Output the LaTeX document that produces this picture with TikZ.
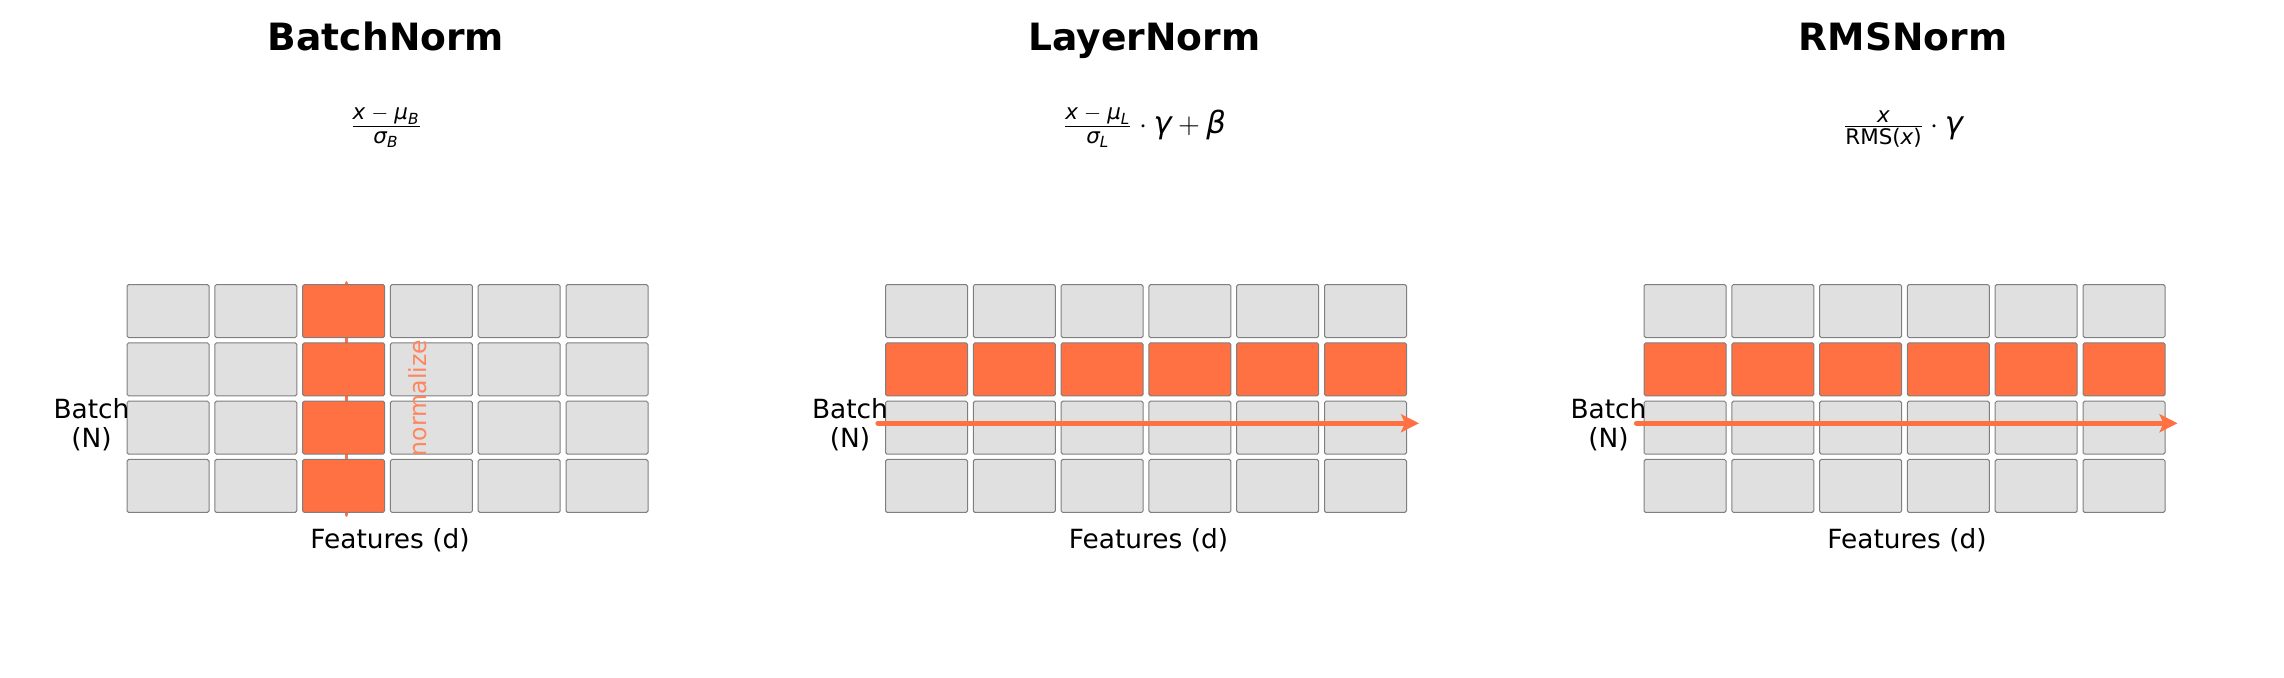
\documentclass[tikz,border=0pt]{standalone}
\usepackage{amsmath}
\usepackage{fontspec}
\setmainfont{DejaVu Sans}
\usepackage{tikz}
\usetikzlibrary{matrix, backgrounds, arrows.meta}

\definecolor{hlorange}{HTML}{FF7043}
\definecolor{cellgray}{HTML}{E0E0E0}
\definecolor{edgegray}{HTML}{7F7F7F}

\newcommand{\mvar}[1]{\text{\itshape #1}}
\newcommand{\msub}{\mskip5mu{-}\mskip5mu}

\begin{document}
\begin{tikzpicture}
    [x=0.5pt, y=-0.5pt,
     every node/.style={inner sep=0pt},
     cell/.style={draw=edgegray, fill=cellgray, line width=0.5pt, rounded corners=0.8pt,
                  minimum width=41pt, minimum height=26.5pt},
     hl/.style={fill=hlorange},
     title/.style={font=\fontsize{18.8}{22}\selectfont\bfseries},
     formula/.style={font=\fontsize{15.3}{18}\selectfont},
     axislabel/.style={font=\fontsize{13.2}{14.8}\selectfont, align=center},
     normlabel/.style={font=\fontsize{11.8}{13.5}\selectfont, text=hlorange!85!white, rotate=90},
     flow/.style={draw=hlorange, line width=2.4pt, line cap=round},
     grid/.style={matrix of nodes, nodes in empty cells, nodes={cell},
                  column sep=2.4pt, row sep=2.15pt}]

    \useasboundingbox (0,0) rectangle (2284,677);

    % BatchNorm
    \node[title, anchor=base] (bntitle) at (386,50) {BatchNorm};
    \node[formula, anchor=base] (bnformula) at (386,133.6)
      {$\frac{\mvar{x}\msub\mvar{μ}_{\mvar{B}}}{\mvar{σ}_{\mvar{B}}}$};

    \matrix (bn) at (387.5,398.5) [grid]
    {
      & & |[hl]| & & & \\
      & & |[hl]| & & & \\
      & & |[hl]| & & & \\
      & & |[hl]| & & & \\
    };

    \begin{scope}[on background layer]
      \draw[flow, line width=1.75pt] ([xshift=1.5pt, yshift=0.6pt]bn-1-3.north) -- ([xshift=1.5pt, yshift=-1.1pt]bn-4-3.south);
    \end{scope}

    \node[normlabel] (bnnorm) at (417.5,398) {normalize};
    \node[axislabel] (bnbatch) at (91.5,424.5) {Batch\\(N)};
    \node[axislabel, anchor=base] (bnfeat) at (390,548) {Features (d)};

    % LayerNorm
    \node[title, anchor=base] (lntitle) at (1144.5,50) {LayerNorm};
    \node[formula, anchor=base] (lnformula) at (1144.5,133.6)
      {$\frac{\mvar{x}\msub\mvar{μ}_{\mvar{L}}}{\mvar{σ}_{\mvar{L}}}\cdot\mvar{γ}+\mvar{β}$};

    \matrix (ln) at (1146,398.5) [grid]
    {
      & & & & & \\
      |[hl]| & |[hl]| & |[hl]| & |[hl]| & |[hl]| & |[hl]| \\
      & & & & & \\
      & & & & & \\
    };

    \draw[flow, -{Stealth[length=9pt, width=9pt, inset=2pt]}] ([xshift=-3.6pt, yshift=2.2pt]ln-3-1.west) -- ([xshift=6pt, yshift=2.2pt]ln-3-6.east);

    \node[axislabel] (lnbatch) at (850,424.5) {Batch\\(N)};
    \node[axislabel, anchor=base] (lnfeat) at (1148.5,548) {Features (d)};

    % RMSNorm
    \node[title, anchor=base] (rntitle) at (1903,50) {RMSNorm};
    \node[formula, anchor=base] (rnformula) at (1903,133.6)
      {$\frac{\mvar{x}}{\text{RMS(}\mvar{x}\text{)}}\cdot\mvar{γ}$};

    \matrix (rn) at (1904.5,398.5) [grid]
    {
      & & & & & \\
      |[hl]| & |[hl]| & |[hl]| & |[hl]| & |[hl]| & |[hl]| \\
      & & & & & \\
      & & & & & \\
    };

    \draw[flow, -{Stealth[length=9pt, width=9pt, inset=2pt]}] ([xshift=-3.6pt, yshift=2.2pt]rn-3-1.west) -- ([xshift=6pt, yshift=2.2pt]rn-3-6.east);

    \node[axislabel] (rnbatch) at (1608.5,424.5) {Batch\\(N)};
    \node[axislabel, anchor=base] (rnfeat) at (1907,548) {Features (d)};
  \end{tikzpicture}
\end{document}
